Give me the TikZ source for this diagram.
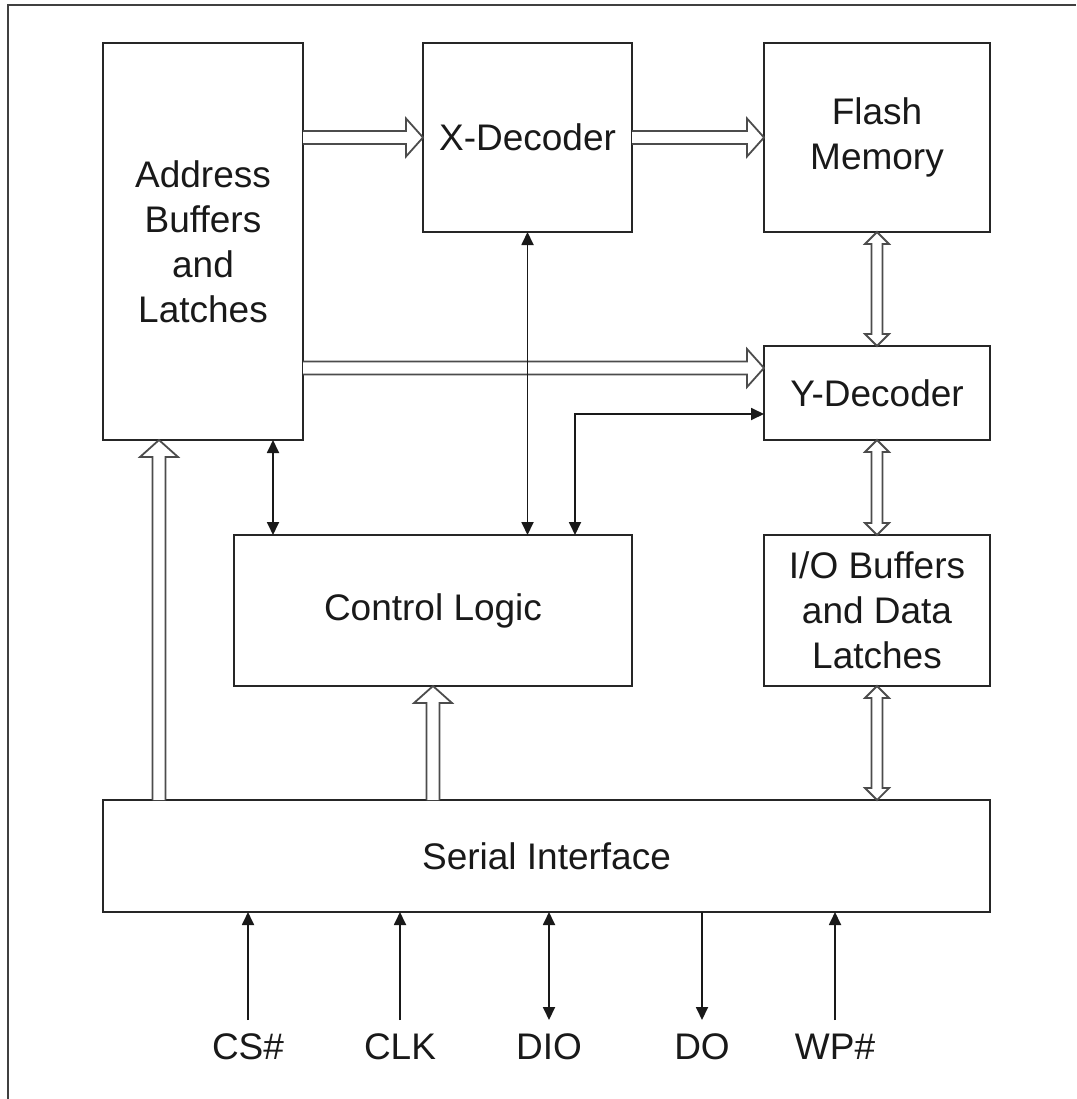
\documentclass[tikz,border=0pt]{standalone}
\usepackage{fontspec}
\setmainfont{Liberation Sans}
\usetikzlibrary{arrows.meta,calc}
\tikzset{
  blk/.style={draw=black!85, line width=1.8pt, outer sep=0pt, inner sep=0pt, align=center,
    font=\fontsize{37}{45}\selectfont, text=black!90},
  lbl/.style={font=\fontsize{37}{45}\selectfont, text=black!90, inner sep=0pt},
  fat/.style={draw=black!70, line width=1.8pt, fill=white, line join=miter},
  thin/.style={draw=black!90, line width=1.8pt},
  tip/.tip={Triangle[width=12pt,length=13pt]}
}
% one-way hollow arrow pointing right, #1 start, #2 tip
\newcommand\fatR[2]{%
  \draw[fat] ([yshift=6.5pt]#1) -- ([xshift=-17pt,yshift=6.5pt]#2) -- ([xshift=-17pt,yshift=19pt]#2) -- (#2)
    -- ([xshift=-17pt,yshift=-19pt]#2) -- ([xshift=-17pt,yshift=-6.5pt]#2) -- ([yshift=-6.5pt]#1);}
% one-way hollow arrow pointing up, #1 start (below), #2 tip (above)
\newcommand\fatU[2]{%
  \draw[fat] ([xshift=-6.5pt]#1) -- ([xshift=-6.5pt,yshift=-17pt]#2) -- ([xshift=-19pt,yshift=-17pt]#2) -- (#2)
    -- ([xshift=19pt,yshift=-17pt]#2) -- ([xshift=6.5pt,yshift=-17pt]#2) -- ([xshift=6.5pt]#1);}
% two-way hollow arrow, #1 top tip, #2 bottom tip
\newcommand\fatUD[2]{%
  \draw[fat] (#1) -- ([xshift=12pt,yshift=-12pt]#1) -- ([xshift=5.5pt,yshift=-12pt]#1)
    -- ([xshift=5.5pt,yshift=12pt]#2) -- ([xshift=12pt,yshift=12pt]#2) -- (#2)
    -- ([xshift=-12pt,yshift=12pt]#2) -- ([xshift=-5.5pt,yshift=12pt]#2)
    -- ([xshift=-5.5pt,yshift=-12pt]#1) -- ([xshift=-12pt,yshift=-12pt]#1) -- cycle;}
\begin{document}
\begin{tikzpicture}[x=1pt,y=-1pt]
\useasboundingbox (0,0) rectangle (1076,1099);
% outer frame (partly outside the picture)
\draw[black!75, line width=2.6pt] (8,1099) -- (8,5) -- (1076,5);

% blocks
\node[blk, minimum width=200pt, minimum height=397pt] (addr) at (203,241.5) {Address\\Buffers\\and\\Latches};
\node[blk, minimum width=209pt, minimum height=189pt] (xdec) at (527.5,137.5) {X-Decoder};
\node[blk, minimum width=226pt, minimum height=189pt] (flash) at (877,137.5) {Flash\\Memory};
\node[blk, minimum width=226pt, minimum height=94pt] (ydec) at (877,393) {Y-Decoder};
\node[blk, minimum width=398pt, minimum height=151pt] (cl) at (433,610.5) {Control Logic};
\node[blk, minimum width=226pt, minimum height=151pt] (io) at (877,610.5) {I/O Buffers\\and Data\\Latches};
\node[blk, minimum width=887pt, minimum height=112pt] (ser) at (546.5,856) {Serial Interface};

% hollow arrows
\coordinate (ax1) at (addr.east |- xdec.west);
\fatR{ax1}{xdec.west}
\fatR{xdec.east}{flash.west}
\coordinate (ay2) at ([yshift=25pt]ydec.west);
\coordinate (ay1) at (addr.east |- ay2);
\fatR{ay1}{ay2}
\coordinate (sa2) at ([xshift=-44pt]addr.south);
\coordinate (sa1) at (sa2 |- ser.north);
\fatU{sa1}{sa2}
\coordinate (sc1) at (cl.south |- ser.north);
\fatU{sc1}{cl.south}
\fatUD{flash.south}{ydec.north}
\fatUD{ydec.south}{io.north}
\coordinate (is1) at (io.south |- ser.north);
\fatUD{io.south}{is1}

% thin arrows
\draw[thin, tip-tip] (xdec.south) -- (xdec.south |- cl.north);
\coordinate (ac1) at ([xshift=70pt]addr.south);
\draw[thin, tip-tip] (ac1) -- (ac1 |- cl.north);
\coordinate (cy1) at ([xshift=142pt]cl.north);
\coordinate (cy2) at ([yshift=-21pt]ydec.west);
\draw[thin, tip-tip] (cy1) |- (cy2);

% pins
\node[lbl] (cs) at (248,1047) {CS\#};
\node[lbl] (clk) at (400,1047) {CLK};
\node[lbl] (dio) at (549,1047) {DIO};
\node[lbl] (do) at (702,1047) {DO};
\node[lbl] (wp) at (835,1047) {WP\#};
\coordinate (pcs) at (248,1020);
\coordinate (pclk) at (400,1020);
\coordinate (pdio) at (549,1020);
\coordinate (pdo) at (702,1020);
\coordinate (pwp) at (835,1020);
\draw[thin, -tip] (pcs) -- (pcs |- ser.south);
\draw[thin, -tip] (pclk) -- (pclk |- ser.south);
\draw[thin, tip-tip] (pdio) -- (pdio |- ser.south);
\draw[thin, tip-] (pdo) -- (pdo |- ser.south);
\draw[thin, -tip] (pwp) -- (pwp |- ser.south);
\end{tikzpicture}
\end{document}
